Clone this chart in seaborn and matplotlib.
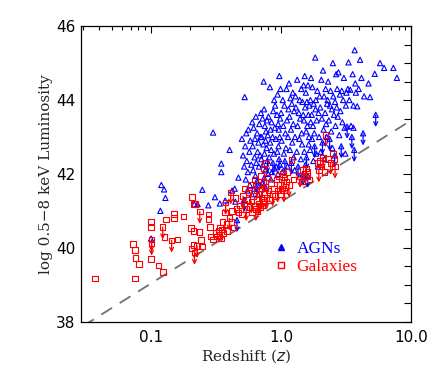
import numpy as np
import pandas as pd
import matplotlib
matplotlib.use("Agg")
import matplotlib.pyplot as plt
import matplotlib.ticker as mticker
from matplotlib.lines import Line2D
import seaborn as sns

# ---------------- data ----------------
agn_z = [0.100, 0.118, 0.120, 0.126, 0.129, 0.215, 0.228, 0.248, 0.276, 0.300, 0.310, 0.347, 0.347, 0.338, 0.372, 0.402, 0.420, 0.445, 0.458, 0.470, 0.440,
         0.50, 0.51, 0.52, 0.525, 0.53, 0.535, 0.54, 0.545, 0.55, 0.555, 0.56, 0.57, 0.575, 0.58, 0.59, 0.595, 0.52,
         0.60, 0.605, 0.61, 0.615, 0.62, 0.625, 0.63, 0.635, 0.64, 0.645, 0.65, 0.655, 0.66, 0.665, 0.67, 0.675, 0.68, 0.685, 0.69, 0.695,
         0.70, 0.705, 0.71, 0.715, 0.72, 0.725, 0.73, 0.735, 0.74, 0.742, 0.745, 0.75, 0.755, 0.76, 0.765, 0.77, 0.775, 0.78, 0.785, 0.79, 0.795,
         0.80, 0.81, 0.82, 0.825, 0.83, 0.835, 0.84, 0.845, 0.85, 0.86, 0.865, 0.87, 0.88, 0.885, 0.89, 0.895,
         0.90, 0.91, 0.92, 0.93, 0.935, 0.94, 0.945, 0.95, 0.955, 0.96, 0.965, 0.97, 0.975, 0.98, 0.985, 0.99,
         1.00, 1.01, 1.02, 1.03, 1.04, 1.05, 1.06, 1.07, 1.08, 1.09, 1.10, 1.11, 1.12, 1.13, 1.14,
         1.15, 1.16, 1.17, 1.18, 1.19, 1.20, 1.21, 1.22, 1.23, 1.24, 1.25, 1.26, 1.27, 1.28, 1.29,
         1.30, 1.32, 1.33, 1.34, 1.35, 1.37, 1.38, 1.39, 1.40, 1.42, 1.43, 1.44, 1.45, 1.46, 1.47, 1.48, 1.49,
         1.50, 1.51, 1.52, 1.53, 1.54, 1.55, 1.56, 1.57, 1.58, 1.59, 1.60, 1.61, 1.62, 1.63, 1.64, 1.65, 1.67, 1.68, 1.69,
         1.70, 1.72, 1.73, 1.74, 1.76, 1.77, 1.78, 1.80, 1.81, 1.83, 1.84, 1.85, 1.86, 1.88, 1.90, 1.92, 1.94, 1.96, 1.98,
         2.00, 2.02, 2.04, 2.06, 2.08, 2.10, 2.12, 2.14, 2.16, 2.18, 2.20, 2.22, 2.24, 2.26, 2.28,
         2.30, 2.33, 2.36, 2.38, 2.40, 2.43, 2.46, 2.48, 2.50, 2.52, 2.55, 2.58, 2.60, 2.62, 2.65, 2.68,
         2.70, 2.73, 2.76, 2.80, 2.83, 2.86, 2.90, 2.93, 2.96, 3.00, 3.04, 3.08, 3.12, 3.15, 3.18,
         3.22, 3.26, 3.30, 3.35, 3.40, 3.45, 3.50, 3.55, 3.60, 3.65, 3.68, 3.72, 3.76, 3.60,
         3.85, 3.95, 4.05, 4.15, 4.27, 4.35,
         4.70, 4.83, 5.25, 5.34, 5.77, 6.20, 7.30, 7.77]
agn_L = [40.25, 41.00, 41.70, 41.58, 41.35, 41.18, 41.18, 41.57, 41.15, 43.12, 41.37, 42.28, 42.05, 41.20, 41.28, 42.65, 41.55, 41.25, 40.75, 41.90, 41.60,
         42.95, 42.50, 42.20, 44.08, 42.75, 41.85, 43.10, 42.35, 41.55, 42.05, 43.20, 42.60, 41.70, 42.90, 42.25, 41.45, 41.30,
         43.40, 42.75, 42.10, 43.25, 41.60, 42.45, 42.95, 41.95, 43.55, 42.30, 41.80, 43.10, 42.60, 41.45, 42.85, 42.20, 43.35, 41.70, 42.50, 43.00,
         43.65, 42.40, 43.00, 41.75, 43.50, 42.25, 42.80, 44.50, 43.75, 41.90, 42.55, 43.30, 42.10, 42.90, 43.15, 41.60, 42.70, 43.45, 42.35, 43.05, 42.00,
         43.55, 42.45, 44.35, 42.85, 43.20, 41.85, 42.65, 43.40, 42.05, 43.00, 42.30, 43.70, 42.55, 44.00, 42.15, 43.25,
         43.85, 42.95, 42.20, 43.60, 42.60, 44.15, 42.00, 43.35, 42.75, 43.20, 42.40, 44.65, 43.00, 42.25, 43.50, 44.30,
         43.65, 42.90, 42.05, 44.00, 43.30, 42.55, 43.85, 42.35, 43.10, 42.70, 44.30, 43.45, 42.20, 43.00, 43.75,
         44.45, 43.55, 42.65, 44.05, 43.20, 42.30, 43.90, 42.85, 44.20, 43.35, 42.45, 43.70, 42.10, 43.00, 44.10,
         43.80, 42.60, 44.55, 43.30, 42.20, 43.65, 42.95, 44.00, 43.50, 42.40, 44.30, 43.10, 42.80, 43.95, 42.00, 43.60, 44.40,
         43.45, 42.60, 44.65, 43.80, 42.25, 44.20, 43.15, 42.45, 43.95, 43.30, 41.95, 44.40, 43.60, 42.80, 43.00, 43.85, 42.65, 44.00, 43.40,
         44.60, 43.60, 42.95, 44.35, 43.30, 42.35, 43.90, 43.10, 42.75, 45.15, 43.75, 44.00, 42.55, 43.45, 44.25, 42.20, 43.65, 43.00, 44.10,
         43.80, 42.60, 44.55, 43.50, 42.85, 44.80, 43.20, 44.10, 42.40, 43.65, 44.30, 43.35, 43.00, 43.90, 44.00,
         44.50, 43.45, 42.95, 43.85, 44.25, 43.15, 43.75, 42.70, 45.00, 44.10, 43.60, 42.50, 43.95, 43.30, 44.70, 43.80,
         44.30, 43.55, 44.75, 43.05, 44.15, 43.70, 42.75, 44.25, 43.40, 44.00, 44.60, 43.25, 42.55, 43.85, 44.20,
         43.28, 44.30, 45.02, 44.00, 44.28, 43.30, 43.00, 44.70, 43.85, 42.65, 45.35, 44.45, 44.20, 43.25,
         43.83, 44.30, 45.09, 44.60, 43.10, 44.10,
         44.45, 44.08, 44.71, 43.60, 45.00, 44.87, 44.87, 44.60]
agn_lim = [0, 0, 0, 0, 0, 0, 0, 0, 0, 0, 0, 0, 0, 0, 0, 0, 0, 0, 1, 0, 0,
           0, 0, 0, 0, 0, 0, 0, 0, 0, 0, 0, 0, 0, 0, 0, 0, 1,
           0, 0, 0, 0, 0, 0, 0, 0, 0, 0, 1, 0, 0, 0, 0, 0, 0, 0, 0, 0,
           0, 0, 0, 0, 0, 0, 0, 0, 0, 1, 0, 0, 0, 0, 0, 0, 0, 0, 1, 0, 0,
           0, 0, 0, 0, 0, 0, 0, 0, 0, 0, 1, 0, 0, 0, 0, 0,
           0, 0, 0, 0, 0, 0, 0, 0, 0, 0, 1, 0, 0, 0, 0, 0,
           0, 0, 0, 0, 0, 0, 0, 1, 0, 0, 0, 0, 0, 0, 0,
           0, 0, 0, 0, 0, 1, 0, 0, 0, 0, 0, 0, 0, 0, 0,
           0, 0, 0, 0, 1, 0, 0, 0, 0, 0, 0, 0, 0, 0, 1, 0, 0,
           0, 0, 0, 0, 0, 0, 0, 1, 0, 0, 1, 0, 0, 0, 0, 0, 0, 0, 0,
           0, 0, 0, 0, 0, 0, 0, 0, 1, 0, 0, 0, 0, 0, 0, 0, 0, 0, 0,
           0, 0, 0, 0, 1, 0, 0, 0, 0, 0, 0, 0, 0, 0, 0,
           0, 0, 1, 0, 0, 0, 0, 0, 0, 0, 0, 1, 0, 0, 0, 0,
           0, 0, 0, 0, 0, 0, 1, 0, 0, 0, 0, 0, 0, 0, 0,
           1, 0, 0, 0, 0, 0, 1, 0, 0, 1, 0, 0, 0, 0,
           0, 0, 0, 0, 1, 0,
           0, 0, 0, 1, 0, 0, 0, 0]

gal_z = [0.037, 0.073, 0.075, 0.076, 0.081, 0.075, 0.100, 0.100, 0.101, 0.101, 0.100, 0.114, 0.123, 0.127, 0.131, 0.124,
         0.144, 0.150, 0.150, 0.160, 0.178, 0.202, 0.207, 0.212, 0.214, 0.235, 0.237, 0.205, 0.212, 0.216, 0.226, 0.243, 0.246, 0.218,
         0.277, 0.277, 0.284, 0.290, 0.300, 0.315, 0.322, 0.330, 0.335, 0.340, 0.345, 0.350, 0.355, 0.360, 0.370, 0.375, 0.380, 0.385,
         0.400, 0.410, 0.415, 0.420, 0.430, 0.445, 0.455, 0.470, 0.480, 0.500, 0.510, 0.520, 0.530, 0.540, 0.550, 0.560, 0.570, 0.580,
         0.590, 0.600, 0.610, 0.620, 0.630, 0.640, 0.645, 0.650, 0.660, 0.665, 0.670, 0.680, 0.690, 0.700, 0.705, 0.710, 0.720, 0.730,
         0.735, 0.740, 0.745, 0.750, 0.760, 0.770, 0.780, 0.800, 0.820, 0.840, 0.860, 0.880, 0.900, 0.920, 0.940, 0.960, 0.980,
         1.000, 1.010, 1.020, 1.030, 1.040, 1.050, 1.060, 1.080, 1.100, 1.120, 1.150, 1.200, 1.250,
         1.400, 1.450, 1.480, 1.500, 1.550, 1.580, 1.600, 1.650,
         1.900, 1.950, 2.000, 2.050, 2.100, 2.150, 2.200, 2.300, 2.400, 2.500, 2.550, 2.600]
gal_L = [39.17, 40.10, 39.94, 39.73, 39.56, 39.17, 40.71, 40.55, 40.22, 40.12, 39.70, 39.52, 40.56, 40.29, 40.76, 39.34,
         40.20, 40.92, 40.80, 40.22, 40.85, 40.53, 41.37, 40.46, 41.19, 40.42, 40.98, 39.98, 40.08, 39.87, 40.05, 40.21, 40.03, 41.19,
         40.90, 40.78, 40.56, 40.30, 40.22, 40.40, 40.30, 40.45, 40.35, 40.55, 40.25, 40.50, 40.70, 40.40, 40.95, 41.22, 40.65, 40.45,
         40.80, 41.50, 40.70, 41.00, 40.55, 41.35, 41.05, 40.95, 41.15, 40.90, 41.40, 41.20, 41.60, 41.05, 41.30, 41.50, 41.10, 41.70,
         41.25, 40.95, 41.40, 41.15, 41.85, 41.05, 41.55, 41.30, 41.00, 41.70, 41.20, 41.45, 41.10, 41.95, 41.35, 41.60, 41.15, 42.15,
         41.80, 41.45, 41.25, 42.30, 41.65, 41.35, 41.90, 41.55, 41.30, 41.75, 41.45, 41.60, 41.40, 41.85, 41.55, 41.95, 41.70,
         41.45, 41.85, 41.60, 42.00, 41.75, 41.55, 41.90, 41.65, 41.80, 42.05, 41.70, 42.38, 41.85,
         41.95, 41.80, 42.10, 41.90, 42.15, 41.95, 42.05, 41.85,
         42.30, 42.10, 42.35, 42.20, 42.45, 42.05, 43.05, 42.40, 42.30, 42.55, 42.40, 42.20]
gal_lim = [0, 0, 0, 0, 0, 0, 0, 0, 1, 1, 0, 0, 1, 0, 0, 0,
           1, 0, 0, 0, 0, 0, 0, 0, 0, 0, 1, 0, 0, 1, 1, 0, 0, 0,
           0, 0, 0, 0, 0, 0, 0, 0, 0, 0, 0, 1, 0, 0, 0, 1, 0, 0,
           1, 1, 0, 0, 0, 0, 0, 0, 0, 0, 1, 0, 0, 1, 0, 0, 0, 0,
           1, 0, 0, 0, 0, 1, 0, 0, 0, 0, 1, 0, 0, 0, 1, 0, 0, 0,
           1, 0, 0, 0, 0, 1, 0, 0, 0, 0, 1, 0, 0, 0, 1, 0, 0,
           0, 1, 0, 0, 0, 1, 0, 0, 0, 0, 1, 0, 0,
           1, 0, 0, 0, 1, 0, 0, 0,
           0, 1, 0, 0, 1, 0, 1, 0, 1, 0, 0, 1]

# sensitivity (flux-limit) line, end points
line_z = [0.030, 10.0]
line_L = [37.88, 43.45]

legend_labels = ["AGNs", "Galaxies"]
x_ticks = [0.1, 1.0, 10.0]
x_ticklabels = ["0.1", "1.0", "10.0"]
y_ticks = [38, 40, 42, 44, 46]

# ---------------- plotting ----------------
sns.set_style("white")
plt.rcParams["font.family"] = ["DejaVu Sans"]

BLUE = "#0000ff"
RED = "#ff0000"

agn = pd.DataFrame({"z": agn_z, "L": agn_L, "lim": agn_lim})
gal = pd.DataFrame({"z": gal_z, "L": gal_L, "lim": gal_lim})

fig = plt.figure(figsize=(4.36, 3.74), dpi=100)
ax = fig.add_axes([0.186, 0.140, 0.757, 0.790])

ax.set_xscale("log")

sns.lineplot(x=line_z, y=line_L, ax=ax, color="#707070", lw=1.3,
             dashes=False, zorder=1).lines[0].set_dashes([7, 5])

arrow_len = 0.33
for df, col in ((agn, BLUE), (gal, RED)):
    for _, r in df[df["lim"] == 1].iterrows():
        ax.annotate("", xy=(r["z"], r["L"] - arrow_len), xytext=(r["z"], r["L"]),
                    arrowprops=dict(arrowstyle="->", color=col, lw=0.9,
                                    shrinkA=0, shrinkB=0, mutation_scale=7),
                    zorder=3)

sns.scatterplot(data=agn, x="z", y="L", ax=ax, marker="^", s=14,
                facecolors="none", edgecolor=BLUE, linewidth=0.8, zorder=4)
sns.scatterplot(data=gal, x="z", y="L", ax=ax, marker="s", s=16,
                facecolors="none", edgecolor=RED, linewidth=0.8, zorder=5)

ax.set_xlim(0.029, 10.0)
ax.set_ylim(38, 46)

ax.xaxis.set_major_locator(mticker.FixedLocator(x_ticks))
ax.xaxis.set_major_formatter(mticker.FixedFormatter(x_ticklabels))
ax.xaxis.set_minor_locator(mticker.LogLocator(base=10, subs=np.arange(2, 10)))
ax.xaxis.set_minor_formatter(mticker.NullFormatter())
ax.yaxis.set_major_locator(mticker.FixedLocator(y_ticks))
ax.yaxis.set_minor_locator(mticker.MultipleLocator(0.5))

ax.tick_params(axis="both", which="both", direction="in", top=True, right=True,
               colors="black", labelsize=11)
ax.tick_params(axis="x", which="major", length=5, width=0.8, pad=6)
ax.tick_params(axis="x", which="minor", length=3, width=0.8)
ax.tick_params(axis="y", which="major", length=6, width=0.8, pad=4)
ax.tick_params(axis="y", which="minor", length=5, width=0.8)
for sp in ax.spines.values():
    sp.set_visible(True)
    sp.set_color("black")
    sp.set_linewidth(0.9)

ax.set_xlabel("Redshift ($z$)", fontsize=11, family="DejaVu Serif", labelpad=2)
ax.set_ylabel("log 0.5\u22128 keV Luminosity", fontsize=11, family="DejaVu Serif", labelpad=2)

handles = [Line2D([], [], marker="^", ls="none", color=BLUE, markersize=4),
           Line2D([], [], marker="s", ls="none", markerfacecolor="none",
                  markeredgecolor=RED, markersize=4, markeredgewidth=1)]
leg = ax.legend(handles, legend_labels, loc="lower left", bbox_to_anchor=(0.537, 0.106),
                frameon=False, handlelength=0.8, handletextpad=0.5, labelspacing=0.1,
                prop={"family": "Liberation Serif", "size": 12.5})
for t, c in zip(leg.get_texts(), (BLUE, RED)):
    t.set_color(c)

fig.savefig("out.png", dpi=100)
